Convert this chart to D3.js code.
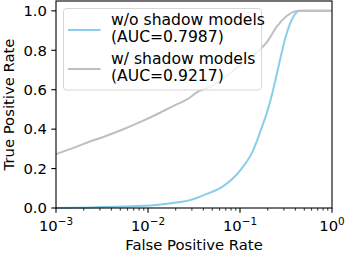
<!DOCTYPE html>
<html>
<head>
<meta charset="utf-8">
<script src="https://cdn.jsdelivr.net/npm/d3@7"></script>
<style>
	body { margin: 0; background: #fff; }
	text { font-family: "DejaVu Sans", sans-serif; fill: #000; }
</style>
</head>
<body>
<div id="chartDiv"></div>
<script>
;(function() {

	var width = 346;
	var height = 254;
	var margin = { top: 1, right: 14, bottom: 46, left: 56 };

	// roc curves (false positive rate, true positive rate)
	var fprNoShadow = [0.001, 0.0025, 0.0053, 0.0122, 0.0187, 0.0286, 0.0427, 0.0653, 0.1, 0.1380, 0.1514, 0.1698, 0.1950, 0.2239, 0.2512, 0.3236, 0.3802, 0.4467, 1.0];
	var tprNoShadow = [0.0, 0.003, 0.007, 0.015, 0.025, 0.04, 0.07, 0.11, 0.19, 0.29, 0.335, 0.40, 0.48, 0.58, 0.68, 0.89, 0.97, 1.0, 1.0];

	var fprShadow = [0.001, 0.00165, 0.00212, 0.00349, 0.00531, 0.00805, 0.0122, 0.0185, 0.0281, 0.0333, 0.0501, 0.092, 0.170, 0.195, 0.251, 0.324, 0.380, 0.447, 1.0];
	var tprShadow = [0.273, 0.31, 0.33, 0.365, 0.398, 0.434, 0.473, 0.516, 0.558, 0.584, 0.62, 0.71, 0.81, 0.84, 0.92, 0.975, 0.995, 1.0, 1.0];

	var seriesNames = ["w/o shadow models", "w/ shadow models"];
	var seriesAuc = ["(AUC=0.7987)", "(AUC=0.9217)"];
	var seriesColors = ["#87ceeb", "#bfbfbf"];

	var xTickExp = [-3, -2, -1, 0];
	var yTicks = [0.0, 0.2, 0.4, 0.6, 0.8, 1.0];

	var xAxisLabelHeader = "False Positive Rate";
	var yAxisLabelHeader = "True Positive Rate";

	var fontSize = 14.8;
	var legendFontSize = 15.6;
	var chart;

	init();

	function init() {
		chart = d3.select("#chartDiv").append("svg")
			.attr("width", width)
			.attr("height", height);

		chart.xScale = d3.scaleLog()
			.domain([1e-3, 1])
			.range([margin.left, width - margin.right]);

		chart.yScale = d3.scaleLinear()
			.domain([0, 1.05])
			.range([height - margin.bottom, margin.top]);

		drawLines();
		drawLegend();
		createAxes();
	}

	function drawLines() {
		var line = d3.line()
			.x(function(d) { return chart.xScale(d[0]); })
			.y(function(d) { return chart.yScale(d[1]); })
			.curve(d3.curveMonotoneX);

		var series = [
			d3.zip(fprNoShadow, tprNoShadow),
			d3.zip(fprShadow, tprShadow)
		];

		chart.selectAll(".roc")
			.data(series)
			.enter().append("path")
				.attr("class", "roc")
				.attr("d", line)
				.attr("fill", "none")
				.attr("stroke", function(d, i) { return seriesColors[i]; })
				.attr("stroke-width", 2)
				.attr("stroke-linejoin", "round");
	}

	function drawLegend() {
		var legend = chart.append("g")
			.attr("transform", "translate(63.5, 8.5)");

		legend.append("rect")
			.attr("width", 198)
			.attr("height", 81.5)
			.attr("rx", 3)
			.attr("fill", "#fff")
			.attr("fill-opacity", 0.8)
			.attr("stroke", "#d6d6d6")
			.attr("stroke-width", 1);

		var entries = legend.selectAll(".entry")
			.data(seriesNames)
			.enter().append("g")
				.attr("class", "entry")
				.attr("transform", function(d, i) { return "translate(0," + (i * 39) + ")"; });

		entries.append("line")
			.attr("x1", 4.5)
			.attr("x2", 37)
			.attr("y1", 21.5)
			.attr("y2", 21.5)
			.attr("stroke", function(d, i) { return seriesColors[i]; })
			.attr("stroke-width", 2);

		entries.append("text")
			.attr("x", 47.5)
			.attr("y", 16.5)
			.style("font-size", legendFontSize + "px")
			.text(function(d) { return d; });

		entries.append("text")
			.attr("x", 47.5)
			.attr("y", 33)
			.style("font-size", legendFontSize + "px")
			.text(function(d, i) { return seriesAuc[i]; });
	}

	function createAxes() {
		var x0 = margin.left;
		var x1 = width - margin.right;
		var y0 = height - margin.bottom;
		var y1 = margin.top;

		// frame
		chart.append("rect")
			.attr("x", x0)
			.attr("y", y1)
			.attr("width", x1 - x0)
			.attr("height", y0 - y1)
			.attr("fill", "none")
			.attr("stroke", "#000")
			.attr("stroke-width", 1.1);

		// x axis, log with minor ticks
		var minor = [];
		xTickExp.forEach(function(e) {
			if (e < 0) {
				for (var k = 2; k < 10; k++) minor.push(k * Math.pow(10, e));
			}
		});

		chart.append("g")
			.attr("transform", "translate(0," + y0 + ")")
			.selectAll(".minor")
			.data(minor)
			.enter().append("line")
				.attr("x1", function(d) { return chart.xScale(d); })
				.attr("x2", function(d) { return chart.xScale(d); })
				.attr("y1", 0)
				.attr("y2", 2.7)
				.attr("stroke", "#000")
				.attr("stroke-width", 0.8);

		var xTicks = chart.append("g")
			.attr("transform", "translate(0," + y0 + ")")
			.selectAll(".xtick")
			.data(xTickExp)
			.enter().append("g")
				.attr("class", "xtick")
				.attr("transform", function(d) { return "translate(" + chart.xScale(Math.pow(10, d)) + ",0)"; });

		xTicks.append("line")
			.attr("y2", 4.7)
			.attr("stroke", "#000")
			.attr("stroke-width", 1.1);

		var xLabels = xTicks.append("text")
			.attr("text-anchor", "middle")
			.attr("y", 22.5)
			.style("font-size", fontSize + "px");
		xLabels.append("tspan").text("10");
		xLabels.append("tspan")
			.attr("dy", -6)
			.style("font-size", "10.4px")
			.text(function(d) { return d < 0 ? "\u2212" + Math.abs(d) : String(d); });

		// y axis
		var yTickG = chart.append("g")
			.selectAll(".ytick")
			.data(yTicks)
			.enter().append("g")
				.attr("class", "ytick")
				.attr("transform", function(d) { return "translate(" + x0 + "," + chart.yScale(d) + ")"; });

		yTickG.append("line")
			.attr("x2", -4.7)
			.attr("stroke", "#000")
			.attr("stroke-width", 1.1);

		yTickG.append("text")
			.attr("x", -9)
			.attr("dy", "0.36em")
			.attr("text-anchor", "end")
			.style("font-size", fontSize + "px")
			.text(function(d) { return d.toFixed(1); });

		// axis headers
		chart.append("text")
			.attr("text-anchor", "middle")
			.attr("x", (x0 + x1) / 2)
			.attr("y", 250)
			.style("font-size", fontSize + "px")
			.text(xAxisLabelHeader);

		chart.append("text")
			.attr("text-anchor", "middle")
			.attr("transform", "translate(14," + ((y0 + y1) / 2) + ") rotate(-90)")
			.style("font-size", fontSize + "px")
			.text(yAxisLabelHeader);
	}

})();
</script>
</body>
</html>
